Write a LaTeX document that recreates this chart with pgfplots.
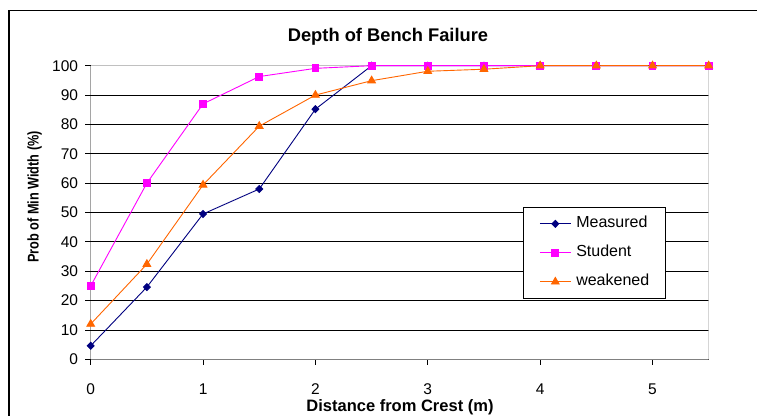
\documentclass[border=0pt]{standalone}
\usepackage{pgfplots}
\pgfplotsset{compat=1.18}
\usepackage{fontspec}
\setmainfont{Liberation Sans}
\definecolor{navyc}{HTML}{000080}
\definecolor{magc}{HTML}{FF00FF}
\definecolor{orc}{HTML}{FF6600}
\definecolor{lgrid}{HTML}{C0C0C0}
\definecolor{dgrey}{HTML}{808080}
\begin{document}
\begin{tikzpicture}[x=1pt,y=1pt]
\useasboundingbox (0,0) rectangle (757,415);
\fill[white] (0,0) rectangle (757,415);
\draw[line width=1.3pt,black] (9,-10) -- (9,404.5) -- (770,404.5);
\node[anchor=base,font=\fontsize{18.3}{21}\selectfont\bfseries] at (388,373.3) {Depth of Bench Failure};
\node[anchor=base,font=\fontsize{16.5}{19}\selectfont\bfseries] at (400,3.3) {Distance from Crest (m)};
\node[anchor=base,rotate=90,font=\fontsize{15.5}{18}\selectfont\bfseries] at (38.5,218) {\scalebox{0.82}[1]{Prob of Min Width (\%)}};
\begin{axis}[
  at={(90.7pt,55.7pt)}, anchor=south west,
  scale only axis, width=618pt, height=293.6pt,
  xmin=0, xmax=5.5, ymin=0, ymax=100,
  xtick={0,1,2,3,4,5}, ytick={0,10,...,100},
  axis line style={draw=none},
  tick align=outside, major tick length=5.5pt,
  tick style={black, line width=0.8pt},
  xtick pos=bottom, ytick pos=left,
  ymajorgrids, major grid style={black, line width=0.8pt},
  ticklabel style={font=\fontsize{15.5}{18}\selectfont},
  /pgf/number format/assume math mode=true,
  xticklabel style={anchor=base, inner sep=0pt, yshift=-29.5pt},
  yticklabel style={anchor=east, inner sep=0pt, xshift=-7pt},
  legend style={at={(axis description cs:0.6995,0.519)}, anchor=north west,
    draw=black, line width=0.8pt, fill=white, inner xsep=16pt, inner ysep=9pt,
    row sep=14pt, font=\fontsize{16}{19}\selectfont,
    nodes={inner sep=0pt, text height=11.5pt, text depth=3.5pt}},
  legend cell align=left,
  /tikz/every odd column/.append style={column sep=5pt},
  legend image code/.code={\draw[mark repeat=2,mark phase=2] plot coordinates {(0pt,0pt) (15.5pt,0pt) (31pt,0pt)};},
]
\draw[lgrid, line width=1pt] (rel axis cs:0,1) -- (rel axis cs:1,1) -- (rel axis cs:1,0);
\draw[dgrey, line width=1.5pt] (rel axis cs:0,0) -- (rel axis cs:1,0);
\draw[black, line width=1.3pt] (rel axis cs:0,0) -- (rel axis cs:0,1);
\addplot[navyc, line width=0.9pt, mark=diamond*, mark size=3.5pt, mark options={fill=navyc, draw=navyc, xscale=1.3}] coordinates {
(0,4.6) (0.5,24.6) (1,49.5) (1.5,58.0) (2,85.2) (2.5,100) (3,100) (3.5,100) (4,100) (4.5,100) (5,100) (5.5,100)};
\addlegendentry{Measured}
\addplot[magc, line width=0.9pt, mark=square*, mark size=3.4pt, mark options={fill=magc, draw=magc}] coordinates {
(0,25) (0.5,60.0) (1,87.0) (1.5,96.3) (2,99.1) (2.5,100) (3,100) (3.5,100) (4,100) (4.5,100) (5,100) (5.5,100)};
\addlegendentry{Student}
\addplot[orc, line width=0.9pt, mark=triangle*, mark size=4.4pt, mark options={fill=orc, draw=orc}] coordinates {
(0,12) (0.5,32.4) (1,59.4) (1.5,79.4) (2,90.0) (2.5,94.9) (3,98.1) (3.5,98.8) (4,100) (4.5,100) (5,100) (5.5,100)};
\addlegendentry{weakened}
\end{axis}
\end{tikzpicture}
\end{document}
